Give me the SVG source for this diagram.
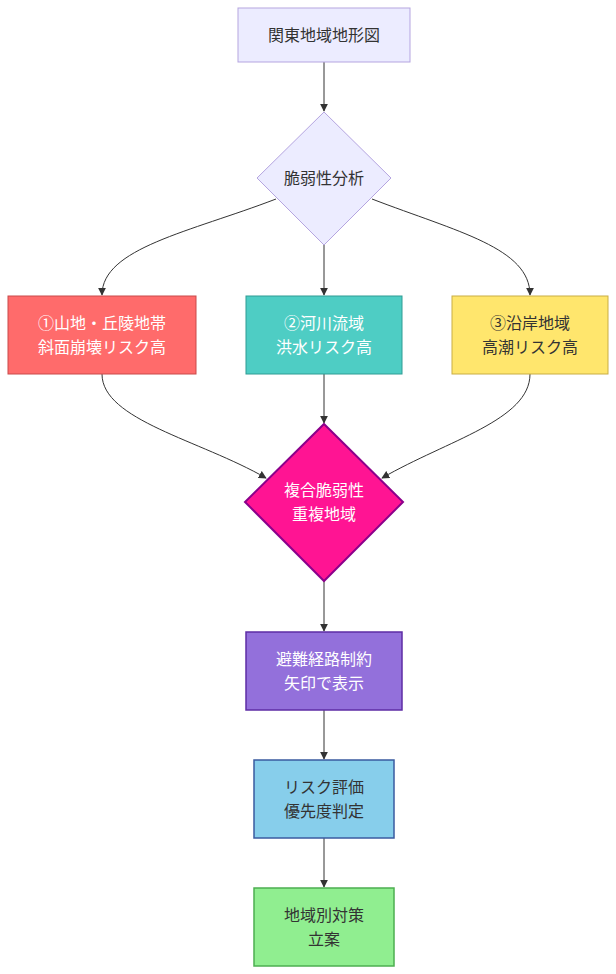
<svg xmlns="http://www.w3.org/2000/svg" width="616" height="974" viewBox="0 0 616 974">
<style>
text{font-family:"Liberation Sans","Noto Sans CJK JP",sans-serif;font-size:16px;text-anchor:middle;dominant-baseline:central}
.edge{fill:none;stroke:#333;stroke-width:1}
.w{fill:#fff}
.k{fill:#333}
</style>
<defs>
<marker id="arr" viewBox="0 0 10 10" refX="9" refY="5" markerWidth="8" markerHeight="8" markerUnits="userSpaceOnUse" orient="auto">
<path d="M0,0 L10,5 L0,10 z" fill="#333"/>
</marker>
</defs>
<rect width="616" height="974" fill="#fff"/>
<g id="edges">
<path class="edge" d="M324,62 L324,111" marker-end="url(#arr)"/>
<path class="edge" d="M276,199 C190,232 102,248 102,295" marker-end="url(#arr)"/>
<path class="edge" d="M324,245 L324,295" marker-end="url(#arr)"/>
<path class="edge" d="M372,199 C458,232 530,248 530,295" marker-end="url(#arr)"/>
<path class="edge" d="M102,374 C102,420 200,440 266,478" marker-end="url(#arr)"/>
<path class="edge" d="M324,374 L324,423" marker-end="url(#arr)"/>
<path class="edge" d="M530,374 C530,420 448,440 382,478" marker-end="url(#arr)"/>
<path class="edge" d="M324,581 L324,631" marker-end="url(#arr)"/>
<path class="edge" d="M324,710 L324,759" marker-end="url(#arr)"/>
<path class="edge" d="M324,838 L324,887" marker-end="url(#arr)"/>
</g>
<g id="A">
<rect x="238" y="8" width="172" height="54" fill="#ECECFF" stroke="#B5A5E0" stroke-width="1"/>
<text class="k" x="324" y="35">関東地域地形図</text>
</g>
<g id="B">
<polygon points="324,112 391,178 324,245 257,178" fill="#ECECFF" stroke="#B5A5E0" stroke-width="1"/>
<text class="k" x="324" y="178">脆弱性分析</text>
</g>
<g id="C">
<rect x="8" y="296" width="188" height="78" fill="#FF6B6B" stroke="#C94A4A" stroke-width="1"/>
<text class="w" x="102" y="323">①山地・丘陵地帯</text>
<text class="w" x="102" y="347">斜面崩壊リスク高</text>
</g>
<g id="D">
<rect x="246" y="296" width="156" height="78" fill="#4ECDC4" stroke="#2E9C94" stroke-width="1"/>
<text class="w" x="324" y="323">②河川流域</text>
<text class="w" x="324" y="347">洪水リスク高</text>
</g>
<g id="E">
<rect x="452" y="296" width="156" height="78" fill="#FFE66D" stroke="#C9AE45" stroke-width="1"/>
<text class="k" x="530" y="323">③沿岸地域</text>
<text class="k" x="530" y="347">高潮リスク高</text>
</g>
<g id="F">
<polygon points="324,424 403,502 324,581 245,502" fill="#FF1493" stroke="#8B008B" stroke-width="2"/>
<text class="w" x="324" y="490">複合脆弱性</text>
<text class="w" x="324" y="514">重複地域</text>
</g>
<g id="G">
<rect x="246" y="632" width="156" height="78" fill="#9370DB" stroke="#5E2CA5" stroke-width="1.5"/>
<text class="w" x="324" y="659">避難経路制約</text>
<text class="w" x="324" y="683">矢印で表示</text>
</g>
<g id="H">
<rect x="254" y="760" width="140" height="78" fill="#87CEEB" stroke="#3A5BA0" stroke-width="1.5"/>
<text class="k" x="324" y="787">リスク評価</text>
<text class="k" x="324" y="811">優先度判定</text>
</g>
<g id="I">
<rect x="254" y="888" width="140" height="78" fill="#90EE90" stroke="#4CAF50" stroke-width="1.5"/>
<text class="k" x="324" y="915">地域別対策</text>
<text class="k" x="324" y="939">立案</text>
</g>
</svg>
